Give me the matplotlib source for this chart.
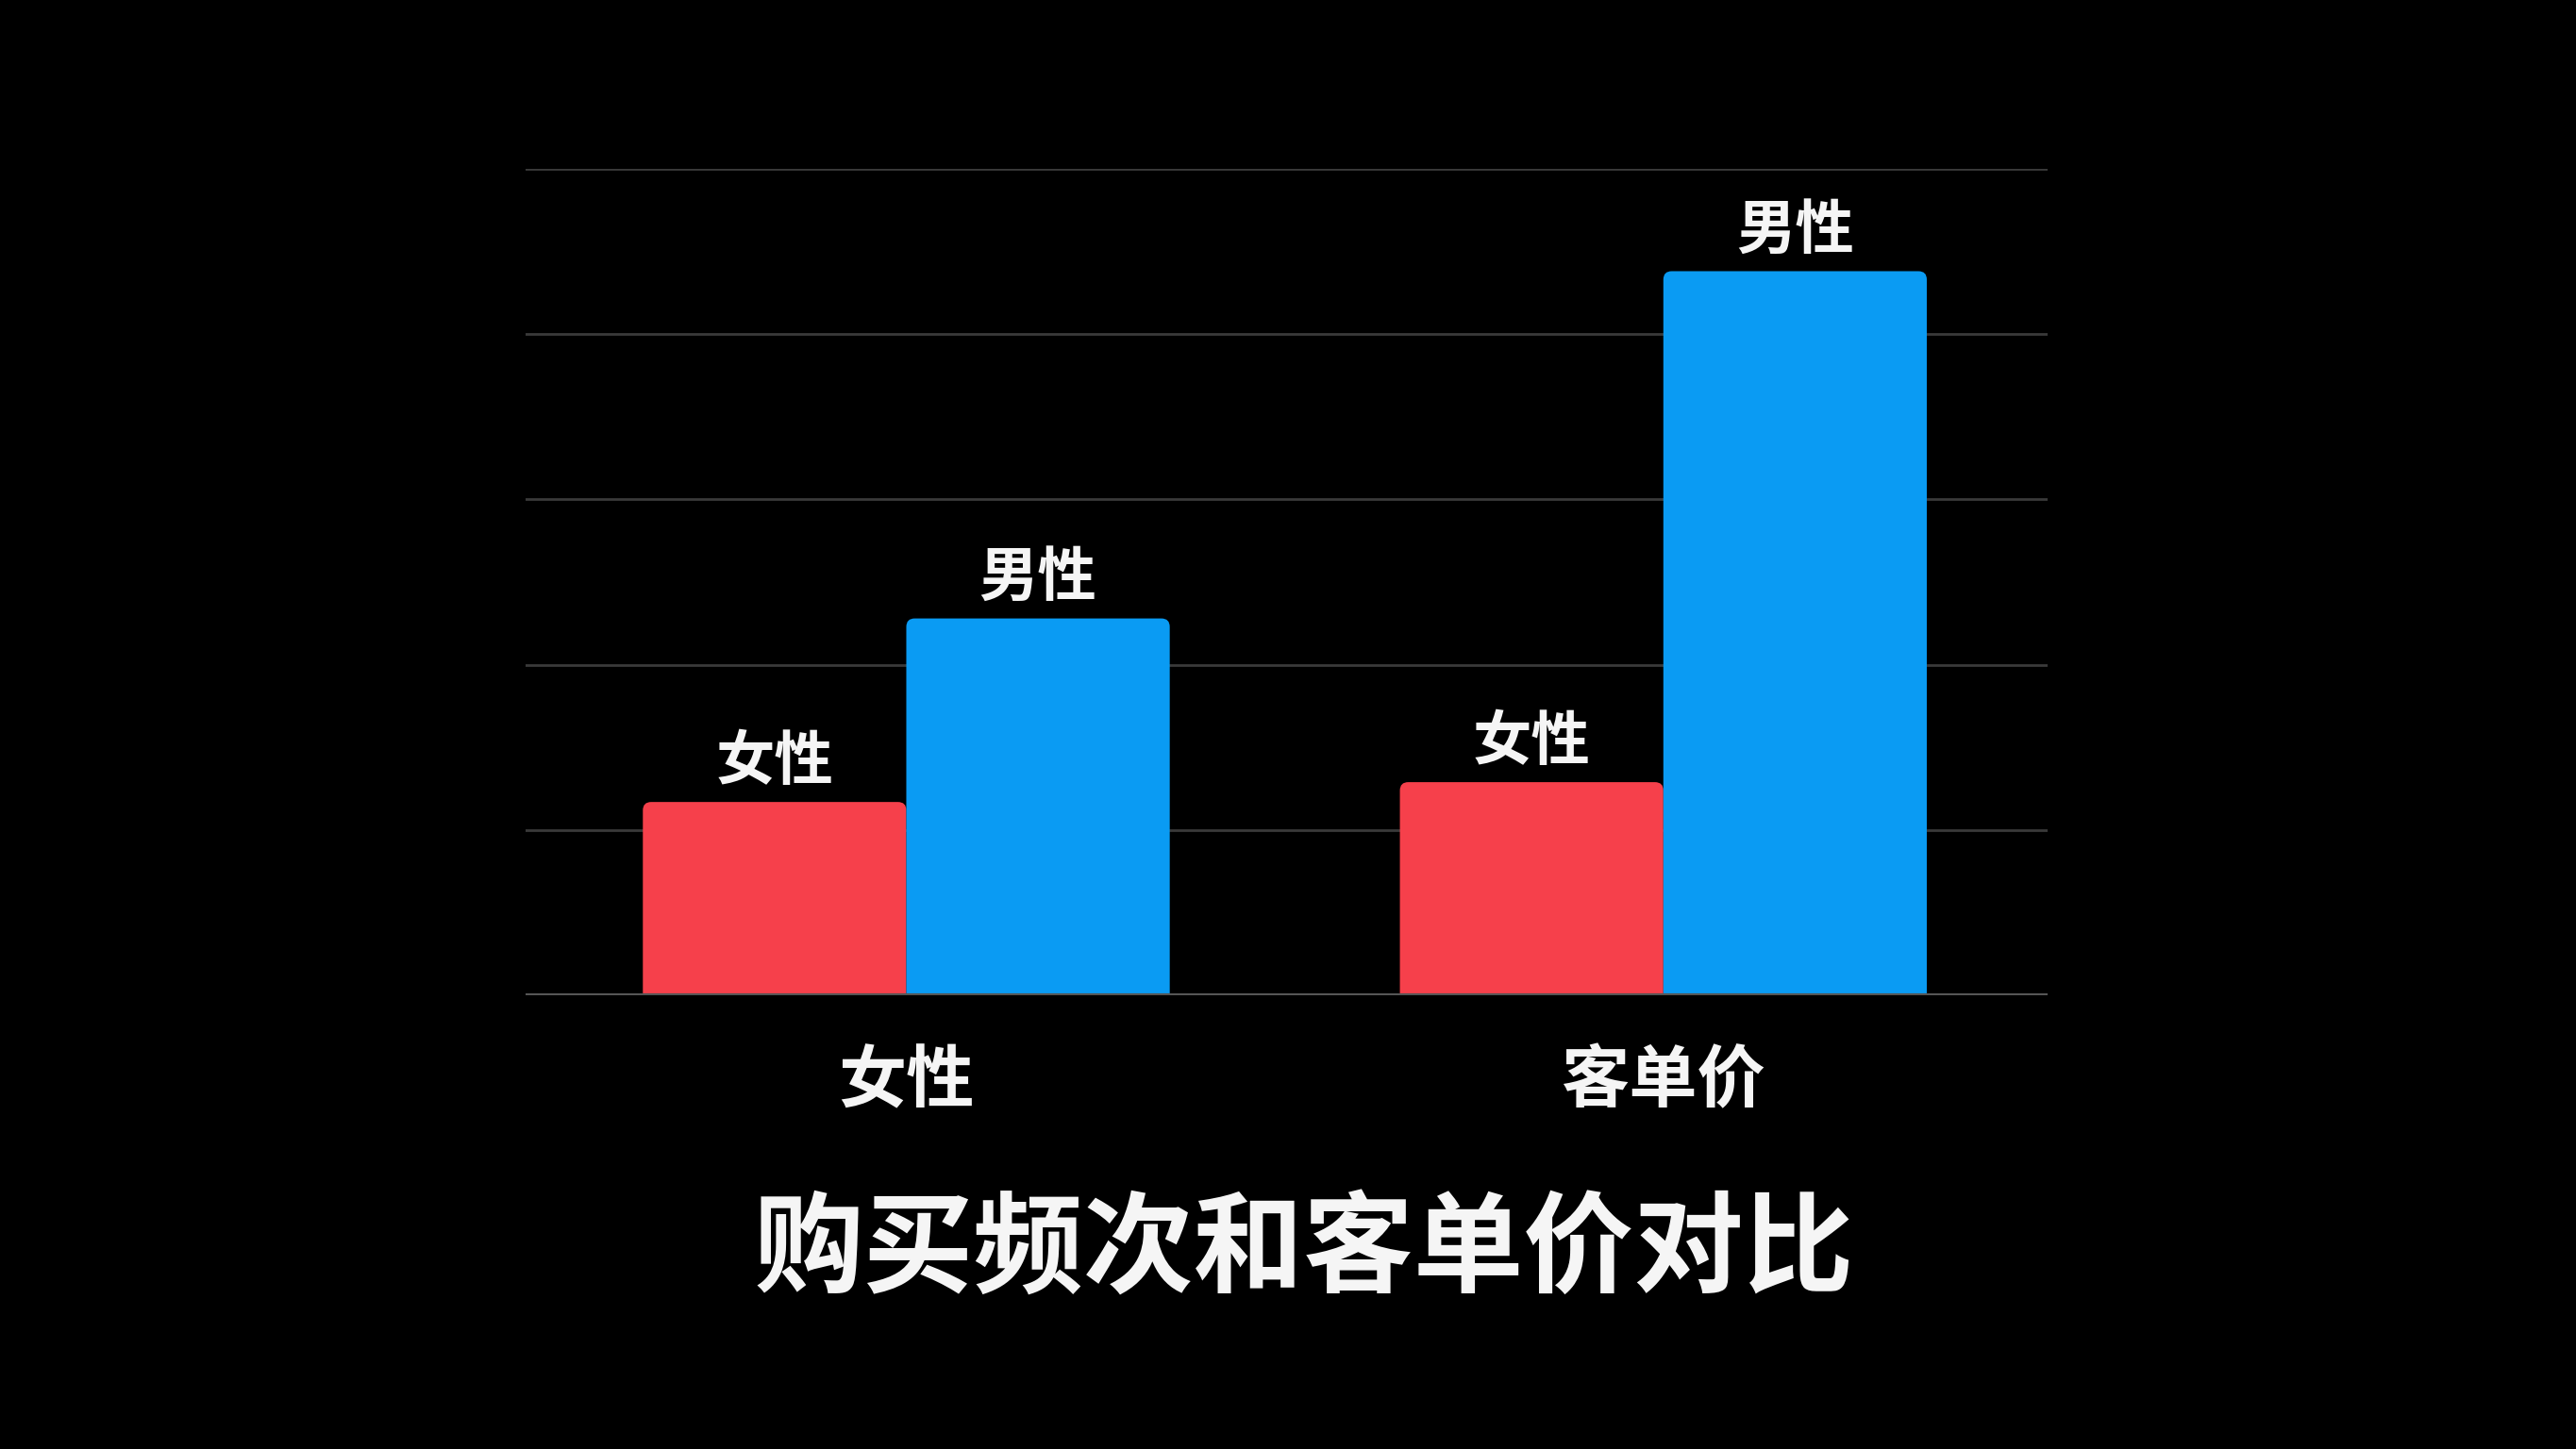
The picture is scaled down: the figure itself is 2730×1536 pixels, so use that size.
import matplotlib
matplotlib.use("Agg")
import matplotlib.pyplot as plt
from matplotlib.patches import FancyBboxPatch
import numpy as np

plt.rcParams['font.family'] = ['Noto Sans CJK SC', 'DejaVu Sans']

categories = ["女性", "客单价"]
series_names = ["女性", "男性"]
female_values = [1.17, 1.29]
male_values = [2.28, 4.38]
title = "购买频次和客单价对比"

red = "#F6404B"
blue = "#0A9BF3"

fig = plt.figure(figsize=(27.3, 15.36), dpi=100, facecolor="black")
ax = fig.add_axes([0.204, 0.313, 0.591, 0.5706])
ax.set_facecolor("black")

x = np.arange(len(categories))
w = 0.348
b1 = ax.bar(x - w / 2, female_values, w, color=red, zorder=3)
b2 = ax.bar(x + w / 2, male_values, w, color=blue, zorder=3)

ax.set_xlim(-0.503, 1.508)
ax.set_ylim(0, 5)

# rounded top corners
rs = 0.011
asp = 4.58
ext = 0.06
for bars, col in ((b1, red), (b2, blue)):
    for r in bars:
        x0, y0, bw, bh = r.get_x(), r.get_y(), r.get_width(), r.get_height()
        r.set_visible(False)
        p = FancyBboxPatch((x0, y0 - ext), bw, bh + ext,
                           boxstyle=f"round,pad=0,rounding_size={rs}",
                           mutation_aspect=asp, facecolor=col,
                           edgecolor="none", zorder=3)
        ax.add_patch(p)

for bars, name in ((b1, series_names[0]), (b2, series_names[1])):
    for r in bars:
        ax.annotate(name, (r.get_x() + r.get_width() / 2, r.get_height()),
                    xytext=(0, 31), textcoords="offset points",
                    ha="center", va="center", fontsize=45, fontweight="bold",
                    color="#F5F5F5")

ax.set_yticks(np.arange(0, 6, 1))
ax.yaxis.grid(True, color="#3A3A3A", linewidth=2.0, zorder=0)
ax.axhline(0, color="#555555", linewidth=3, zorder=4)
for s in ax.spines.values():
    s.set_visible(False)
ax.tick_params(axis="y", left=False, labelleft=False)
ax.tick_params(axis="x", bottom=False, pad=36)
ax.set_xticks(x)
ax.set_xticklabels(categories, fontsize=52, fontweight="bold", color="#F5F5F5")

fig.text(0.506, 1 - 1328 / 1536, title, ha="center", va="center",
         fontsize=84, fontweight="bold", color="#F5F5F5")

fig.savefig("out.png", dpi=100, facecolor="black")
